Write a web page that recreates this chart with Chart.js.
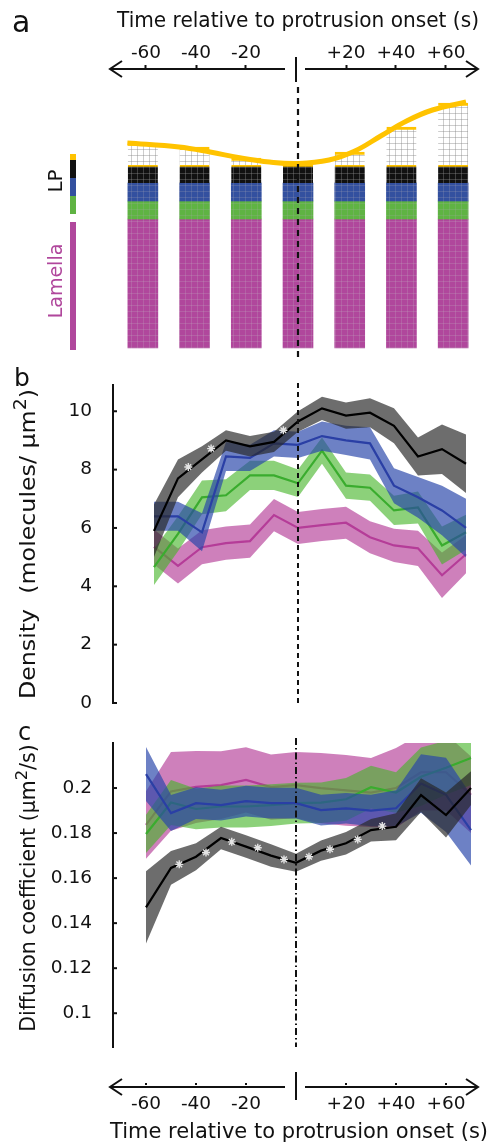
<!DOCTYPE html>
<html><head><meta charset="utf-8"><title>Protrusion density and diffusion</title>
<script src="https://cdn.jsdelivr.net/npm/chart.js@4.4.1/dist/chart.umd.min.js"></script>
<style>
html,body{margin:0;padding:0;background:#fff;}
#wrap{position:relative;width:492px;height:1147px;overflow:hidden;font-family:"DejaVu Sans",sans-serif;color:#111;}
#wrap canvas{position:absolute;left:0;}
.let{position:absolute;line-height:1;}
.rot{position:absolute;transform:translate(-50%,-50%) rotate(-90deg);white-space:nowrap;line-height:1;}
.ytl{position:absolute;white-space:nowrap;line-height:1;font-size:21px;}
.ytl sup{font-size:0.8em;line-height:0;vertical-align:0.5em;}
.xtl{position:absolute;transform:translate(-50%,-50%);white-space:nowrap;line-height:1;font-size:21px;}
</style></head><body>
<div id="wrap">
<canvas id="ca" width="492" height="360" style="top:0"></canvas>
<canvas id="cb" width="492" height="360" style="top:360px"></canvas>
<canvas id="cc" width="492" height="427" style="top:720px"></canvas>
<div class="let" style="left:12px;top:7px;font-size:30px">a</div>
<div class="let" style="left:14px;top:365px;font-size:25px">b</div>
<div class="let" style="left:18px;top:720px;font-size:24px">c</div>
<div class="rot" style="left:55px;top:181px;font-size:20px">LP</div>
<div class="rot" style="left:55px;top:281px;font-size:19px;color:#b0479c">Lamella</div>
<div class="ytl" style="left:28px;top:544px;transform:translate(-50%,-50%) rotate(-90deg) scaleX(1.13)">Density&nbsp; (molecules/ µm<sup>2</sup>)</div>
<div class="ytl" style="left:28px;top:888px;font-size:20.5px;transform:translate(-50%,-50%) rotate(-90deg)">Diffusion coefficient (µm<sup>2</sup>/s)</div>
<div class="xtl" id="xbot" style="left:299px;top:1131px"></div>
</div>
<script>
// ---------------- DATA ----------------
// panel a (schematic, heights in a.u.)
const aTimes   = [-60, -40, -20, 0, 20, 40, 60];
const lamellaH = [129, 129, 129, 129, 129, 129, 129];
const lpGreenH = [18, 18, 18, 18, 18, 18, 18];
const lpBlueH  = [18, 18, 18, 18, 18, 18, 18];
const lpBlackH = [18, 18, 18, 18, 18, 18, 18];
const edgeTop  = [205, 201, 190, 185, 196, 221, 245];
const edgeCurveT = [-66, -46, -34, -22, -11, 0, 12, 22, 32, 42, 52, 65];
const edgeCurveV = [205, 201, 196, 190, 186, 184.5, 188, 197, 212, 227, 238, 246];
const arrowTicks = [-60, -40, -20, 20, 40, 60];

// panels b and c
const times = [-60, -50, -40, -30, -20, -10, 0, 10, 20, 30, 40, 50, 60, 70];

const bBlack    = [5.9, 7.7, 8.35, 9.0, 8.8, 8.95, 9.65, 10.1, 9.85, 9.95, 9.5, 8.45, 8.7, 8.2];
const bBlackErr = [0.9, 0.65, 0.45, 0.35, 0.35, 0.35, 0.35, 0.4, 0.45, 0.5, 0.6, 0.65, 0.85, 1.0];
const bBlue     = [6.4, 6.4, 5.85, 8.45, 8.4, 8.9, 8.85, 9.15, 9.0, 8.9, 7.45, 7.05, 6.6, 6.0];
const bBlueErr  = [0.5, 0.5, 0.65, 0.5, 0.45, 0.45, 0.45, 0.5, 0.5, 0.55, 0.6, 0.7, 0.85, 1.0];
const bGreen    = [4.66, 5.8, 7.05, 7.12, 7.8, 7.8, 7.53, 8.65, 7.45, 7.38, 6.6, 6.7, 5.4, 5.85];
const bGreenErr = [0.62, 0.6, 0.58, 0.55, 0.5, 0.5, 0.47, 0.45, 0.45, 0.45, 0.5, 0.55, 0.65, 0.6];
const bMag      = [5.35, 4.7, 5.34, 5.48, 5.55, 6.44, 6.0, 6.1, 6.18, 5.68, 5.4, 5.3, 4.38, 5.1];
const bMagErr   = [0.6, 0.6, 0.58, 0.57, 0.57, 0.55, 0.55, 0.55, 0.55, 0.55, 0.57, 0.6, 0.78, 0.65];
const bStarT    = [-45.7, -36.2, -6.1];
const bStarV    = [8.09, 8.72, 9.35];
const bTicks    = [0, 2, 4, 6, 8, 10];

const cBlack    = [0.147, 0.1645, 0.1695, 0.1778, 0.174, 0.170, 0.1668, 0.1722, 0.1755, 0.1813, 0.1828, 0.1969, 0.188, 0.2];
const cBlackErr = [0.016, 0.0075, 0.006, 0.005, 0.005, 0.005, 0.004, 0.0045, 0.005, 0.005, 0.006, 0.0075, 0.01, 0.0075];
const cBlue     = [0.2062, 0.1889, 0.1933, 0.1924, 0.1942, 0.1933, 0.1933, 0.1902, 0.191, 0.190, 0.191, 0.202, 0.197, 0.1813];
const cBlueErr  = [0.012, 0.008, 0.007, 0.0068, 0.0068, 0.0068, 0.0068, 0.0068, 0.0068, 0.007, 0.008, 0.013, 0.0165, 0.0157];
const cGreen    = [0.1796, 0.1936, 0.1907, 0.1918, 0.1918, 0.1924, 0.1933, 0.1935, 0.195, 0.2004, 0.198, 0.205, 0.209, 0.2133];
const cGreenErr = [0.0085, 0.01, 0.009, 0.0093, 0.0093, 0.0093, 0.009, 0.009, 0.0095, 0.0095, 0.009, 0.013, 0.012, 0.012];
const cMag      = [0.1836, 0.1985, 0.2005, 0.2013, 0.2036, 0.2004, 0.2013, 0.2, 0.199, 0.198, 0.2, 0.207, 0.207, 0.197];
const cMagErr   = [0.015, 0.0175, 0.016, 0.015, 0.0145, 0.0145, 0.0147, 0.0156, 0.0157, 0.0153, 0.0178, 0.017, 0.017, 0.017];
const cStarT    = [-46.7, -36, -25.7, -15.3, -4.8, 5.2, 13.6, 24.7, 34.5];
const cStarV    = [0.1661, 0.1714, 0.1761, 0.1735, 0.1683, 0.1695, 0.1728, 0.1772, 0.1831];
const cTicks    = [0.1, 0.12, 0.14, 0.16, 0.18, 0.2];

const xTitle = 'Time relative to protrusion onset (s)';
document.getElementById('xbot').textContent = xTitle;

// ---------------- STYLE ----------------
const FONT = '"DejaVu Sans", sans-serif';
Chart.defaults.font.family = FONT;
Chart.defaults.color = '#111';
Chart.defaults.animation = false;

const COL = {
  black: {line: '#000000', band: 'rgba(40,40,40,0.68)', bar: '#111111'},
  blue:  {line: '#2a3fa5', band: 'rgba(40,70,170,0.68)', bar: '#33509f'},
  green: {line: '#3aac2e', band: 'rgba(70,180,40,0.62)', bar: '#5fb343'},
  mag:   {line: '#b53c98', band: 'rgba(180,60,150,0.65)', bar: '#b0479c'},
  yellow: '#ffc300'
};

function gridPattern(fill, line) {
  const c = document.createElement('canvas'); c.width = 6; c.height = 6;
  const g = c.getContext('2d');
  g.fillStyle = fill; g.fillRect(0, 0, 6, 6);
  g.fillStyle = line; g.fillRect(5, 0, 1, 6); g.fillRect(0, 5, 6, 1);
  return g.createPattern(c, 'repeat');
}
const tickLabel = v => (v > 0 ? '+' + v : String(v));

function drawArrowAxis(ctx, xl, xr, x0, ly, b1, b2) {
  ctx.save();
  ctx.strokeStyle = '#111'; ctx.lineWidth = 1.8;
  ctx.beginPath();
  ctx.moveTo(xl, ly); ctx.lineTo(x0 - 11, ly);
  ctx.moveTo(x0 + 9, ly); ctx.lineTo(xr, ly);
  ctx.stroke();
  ctx.lineWidth = 2;
  ctx.beginPath(); ctx.moveTo(xl + 12, ly - 8); ctx.lineTo(xl, ly); ctx.lineTo(xl + 12, ly + 8); ctx.stroke();
  ctx.beginPath(); ctx.moveTo(xr - 12, ly - 8); ctx.lineTo(xr, ly); ctx.lineTo(xr - 12, ly + 8); ctx.stroke();
  ctx.beginPath(); ctx.moveTo(x0, b1); ctx.lineTo(x0, b2); ctx.stroke();
  ctx.restore();
}

// ---------------- PANEL A ----------------
(function () {
  const cum = aTimes.map((t, i) => {
    const g0 = lamellaH[i], b0 = g0 + lpGreenH[i], k0 = b0 + lpBlueH[i], k1 = k0 + lpBlackH[i];
    return {t, g0, b0, k0, k1};
  });
  const barBase = {type: 'bar', barThickness: 30, grouped: false, borderWidth: 0};
  const datasets = [
    {type: 'line', data: edgeCurveT.map((t, i) => ({x: t, y: edgeCurveV[i]})),
     borderColor: COL.yellow, borderWidth: 5, pointRadius: 0, tension: 0.4, order: 0, clip: false},
    Object.assign({}, barBase, {data: cum.map((c, i) => ({x: c.t, y: [c.k1, edgeTop[i]]})),
     backgroundColor: gridPattern('#ffffff', 'rgba(130,130,130,0.4)'),
     borderColor: COL.yellow, borderWidth: {top: 3, left: 0, right: 0, bottom: 0}, borderSkipped: false, order: 2}),
    Object.assign({}, barBase, {data: cum.map(c => ({x: c.t, y: [c.k0, c.k1]})),
     backgroundColor: gridPattern(COL.black.bar, 'rgba(150,150,150,0.35)'),
     borderColor: COL.yellow, borderWidth: {top: 2, left: 0, right: 0, bottom: 0}, borderSkipped: false, order: 3}),
    Object.assign({}, barBase, {data: cum.map(c => ({x: c.t, y: [c.b0, c.k0]})),
     backgroundColor: gridPattern(COL.blue.bar, 'rgba(160,160,180,0.25)'), order: 4}),
    Object.assign({}, barBase, {data: cum.map(c => ({x: c.t, y: [c.g0, c.b0]})),
     backgroundColor: gridPattern(COL.green.bar, 'rgba(160,170,160,0.25)'), order: 5}),
    Object.assign({}, barBase, {data: cum.map(c => ({x: c.t, y: [0, c.g0]})),
     backgroundColor: gridPattern(COL.mag.bar, 'rgba(190,170,190,0.25)'), order: 6})
  ];
  const deco = {
    id: 'aDeco',
    afterDraw(chart) {
      const {ctx, chartArea: ca, scales: {x, xt, y}} = chart;
      const x0 = xt.getPixelForValue(0);
      drawArrowAxis(ctx, xt.getPixelForValue(-60) - 36, xt.getPixelForValue(60) + 32, x0, ca.top + 1, ca.top - 11, ca.top + 14);
      ctx.save();
      ctx.strokeStyle = '#111'; ctx.lineWidth = 2.2; ctx.setLineDash([6, 5]);
      const xz = x.getPixelForValue(0);
      ctx.beginPath(); ctx.moveTo(xz, ca.top + 19); ctx.lineTo(xz, ca.bottom); ctx.stroke();
      ctx.setLineDash([]);
      const sx = 70, sw = 6, c0 = cum[0];
      const seg = (v1, v2, off, color) => {
        const p1 = y.getPixelForValue(v1) + off, p2 = y.getPixelForValue(v2) + off;
        ctx.fillStyle = color; ctx.fillRect(sx, Math.min(p1, p2), sw, Math.abs(p2 - p1));
      };
      seg(c0.k0, c0.k1, -5, COL.black.bar);
      seg(c0.b0, c0.k0, -5, COL.blue.bar);
      seg(c0.g0, c0.b0, -5, COL.green.bar);
      const ky = y.getPixelForValue(c0.k1) - 5;
      ctx.fillStyle = COL.yellow; ctx.fillRect(sx, ky - 6, sw, 6);
      const m1 = y.getPixelForValue(0) + 2, m2 = y.getPixelForValue(c0.g0) + 3;
      ctx.fillStyle = COL.mag.bar; ctx.fillRect(sx, m2, sw, m1 - m2);
      ctx.restore();
    }
  };
  new Chart(document.getElementById('ca'), {
    type: 'bar',
    data: {datasets},
    options: {
      responsive: false, animation: false, events: [],
      layout: {padding: {left: 117, right: 13, top: 0, bottom: 2}},
      plugins: {legend: {display: false}, tooltip: {enabled: false}},
      scales: {
        x: {type: 'linear', min: -70, max: 70, display: false, offset: false},
        xt: {type: 'linear', position: 'top', min: -71.6, max: 73.2, offset: false,
          afterBuildTicks: s => { s.ticks = arrowTicks.map(v => ({value: v})); },
          ticks: {callback: tickLabel, font: {size: 18.5}, color: '#111', padding: 1, maxRotation: 0, autoSkip: false},
          grid: {display: true, offset: false, drawOnChartArea: false, drawTicks: true, tickLength: 3, tickWidth: 2, tickColor: '#111'},
          border: {display: false},
          title: {display: true, text: xTitle, font: {size: 21}, color: '#111', padding: {top: 9.4, bottom: 0}},
          afterFit: s => { s.height = 68; s.paddingLeft = 0; s.paddingRight = 0; }
        },
        y: {type: 'linear', min: -10, max: 280, display: false}
      }
    },
    plugins: [deco]
  });
})();

// ---------------- PANELS B & C ----------------
function seriesSets(mean, err, col, baseOrder) {
  return [
    {type: 'line', data: times.map((t, i) => ({x: t, y: mean[i] + err[i]})), borderColor: 'rgba(0,0,0,0)', borderWidth: 0,
     pointRadius: 0, fill: '+1', backgroundColor: col.band, order: baseOrder + 1},
    {type: 'line', data: times.map((t, i) => ({x: t, y: mean[i] - err[i]})), borderColor: 'rgba(0,0,0,0)', borderWidth: 0,
     pointRadius: 0, fill: false, order: baseOrder + 1},
    {type: 'line', data: times.map((t, i) => ({x: t, y: mean[i]})), borderColor: col.line, borderWidth: 2.2,
     pointRadius: 0, fill: false, order: baseOrder}
  ];
}
function starSet(ts, vs) {
  return {type: 'line', showLine: false, data: ts.map((t, i) => ({x: t, y: vs[i]})), pointStyle: 'star',
    pointRadius: 4, pointBorderColor: '#e4e4e4', pointBorderWidth: 1.4, pointBackgroundColor: '#e4e4e4', order: 0};
}
const axisDeco = {
  id: 'axisDeco',
  afterDatasetsDraw(chart, args, opts) {
    const {ctx, chartArea: ca, scales: {x, y}} = chart;
    ctx.save();
    ctx.strokeStyle = '#111'; ctx.lineWidth = 2; ctx.setLineDash(opts.dash);
    const x0 = x.getPixelForValue(0);
    ctx.beginPath(); ctx.moveTo(x0, ca.top - opts.over); ctx.lineTo(x0, ca.bottom); ctx.stroke();
    ctx.setLineDash([]);
    y.ticks.forEach(t => {
      const py = y.getPixelForValue(t.value);
      ctx.beginPath(); ctx.moveTo(ca.left, py); ctx.lineTo(ca.left + 4, py); ctx.stroke();
    });
    if (opts.arrow) {
      const ly = ca.bottom + 40;
      drawArrowAxis(ctx, x.getPixelForValue(-60) - 36, x.getPixelForValue(60) + 32, x0, ly, ly - 15, ly + 13);
      ctx.fillStyle = '#111';
      x.ticks.forEach(t => { const px = x.getPixelForValue(t.value); ctx.fillRect(px - 1, ly - 4, 2, 2); });
    }
    ctx.restore();
  }
};
function yAxis(min, max, ticksArr, fmt) {
  return {type: 'linear', min, max,
    afterBuildTicks: s => { s.ticks = ticksArr.map(v => ({value: v})); },
    ticks: {font: {size: 18.5}, color: '#111', padding: 13, callback: fmt},
    grid: {display: false},
    border: {display: true, color: '#111', width: 2},
    title: {display: false},
    afterFit: s => { s.width = 113; s.paddingTop = 0; s.paddingBottom = 0; }
  };
}

new Chart(document.getElementById('cb'), {
  type: 'line',
  data: {datasets: [
    ...seriesSets(bBlack, bBlackErr, COL.black, 1),
    ...seriesSets(bBlue, bBlueErr, COL.blue, 3),
    ...seriesSets(bGreen, bGreenErr, COL.green, 5),
    ...seriesSets(bMag, bMagErr, COL.mag, 7),
    starSet(bStarT, bStarV)
  ]},
  options: {
    responsive: false, animation: false, events: [],
    layout: {padding: {left: 0, right: 25, top: 25, bottom: 17}},
    plugins: {legend: {display: false}, tooltip: {enabled: false}, axisDeco: {dash: [5, 4], over: 2, arrow: false}},
    scales: {
      x: {type: 'linear', min: -77.08, max: 70.42, display: false},
      y: yAxis(0, 10.9, bTicks, v => String(v))
    }
  },
  plugins: [axisDeco]
});

new Chart(document.getElementById('cc'), {
  type: 'line',
  data: {datasets: [
    ...seriesSets(cBlack, cBlackErr, COL.black, 1),
    ...seriesSets(cBlue, cBlueErr, COL.blue, 3),
    ...seriesSets(cGreen, cGreenErr, COL.green, 5),
    ...seriesSets(cMag, cMagErr, COL.mag, 7),
    starSet(cStarT, cStarV)
  ]},
  options: {
    responsive: false, animation: false, events: [],
    layout: {padding: {left: 0, right: 20, top: 23, bottom: 0}},
    plugins: {legend: {display: false}, tooltip: {enabled: false}, axisDeco: {dash: [7, 3, 1.5, 3], over: 5, arrow: true}},
    scales: {
      x: {type: 'linear', position: 'bottom', min: -73.2, max: 70.4,
        afterBuildTicks: s => { s.ticks = arrowTicks.map(v => ({value: v})); },
        ticks: {callback: tickLabel, font: {size: 18.5}, color: '#111', padding: 38, maxRotation: 0, autoSkip: false},
        grid: {display: false}, border: {display: false},
        title: {display: false},
        afterFit: s => { s.height = 100; s.paddingLeft = 0; s.paddingRight = 0; }
      },
      y: yAxis(0.085, 0.22, cTicks, v => String(+v.toFixed(2)))
    }
  },
  plugins: [axisDeco]
});
</script>
</body></html>
